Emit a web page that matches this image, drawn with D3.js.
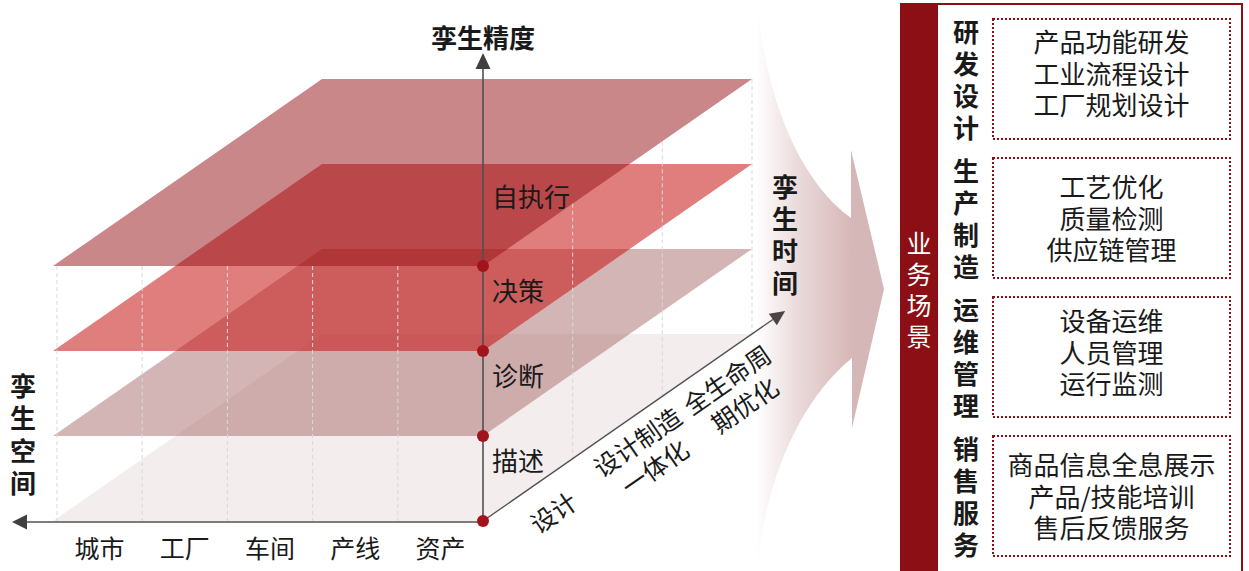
<!DOCTYPE html>
<html><head><meta charset="utf-8">
<script src="https://cdn.jsdelivr.net/npm/d3@7"></script>
<style>
body{margin:0;background:#fff}
svg{display:block}
text{font-family:"Noto Sans CJK SC","Noto Sans",sans-serif;fill:#1a1a1a}
</style>
</head><body>
<svg id="c" width="1249" height="571"></svg>
<script>
// ---- data ----
const layerLabels = ['描述','诊断','决策','自执行'];
const spaceLabels = ['城市','工厂','车间','产线','资产'];
const timeLabels = [['设计'],['设计制造','一体化'],['全生命周','期优化']];
const precisionTitle = '孪生精度';
const spaceTitle = '孪生空间';
const timeTitle = '孪生时间';
const panelTitle = '业务场景';
const sceneCategories = ['研发设计','生产制造','运维管理','销售服务'];
const sceneItems = [
  ['产品功能研发','工业流程设计','工厂规划设计'],
  ['工艺优化','质量检测','供应链管理'],
  ['设备运维','人员管理','运行监测'],
  ['商品信息全息展示','产品/技能培训','售后反馈服务']
];
// ---- styles ----
const layerColors = ['#f3eded','#a96b6b','#c71414','#930f13'];
const layerOpacity = [1,0.5,0.55,0.5];
const itemShift = [-6,0,-5,0];
const darkRed = '#8b0f14';

const svg = d3.select('#c');
const defs = svg.append('defs');

// scales
const x = d3.scaleBand().domain(spaceLabels).range([57,483]);
const y = d3.scaleLinear().domain([0,layerLabels.length-1]).range([521,266]);
const depth = d3.scaleBand().domain(timeLabels.map((d,i)=>i)).range([0,1]);
const DX = 269, DY = -187;
const ox = x.range()[1], oy = y(0);
const dLen = Math.hypot(DX,DY);
const ux = DX/dLen, uy = DY/dLen;
const ang = Math.atan2(DY,DX)*180/Math.PI;

// ---- big gradient arrow ----
const g = defs.append('linearGradient').attr('id','ag')
  .attr('gradientUnits','userSpaceOnUse').attr('x1',756).attr('x2',852).attr('y1',0).attr('y2',0);
g.append('stop').attr('offset',0).attr('stop-color','#ffffff');
g.append('stop').attr('offset',0.45).attr('stop-color','#ead9d9');
g.append('stop').attr('offset',1).attr('stop-color','#d6b7b7');
svg.append('path')
  .attr('d','M755,0 L757,0 C765,95 798,180 851,218 L851,150 L884,289 L852,428 L852,358 C800,400 765,480 757,571 L755,571 Z')
  .attr('fill','url(#ag)');

// ---- planes ----
const planeL = x.range()[0]-4;
svg.append('g').selectAll('path').data(layerLabels).join('path')
  .attr('d',(d,i)=>{
    const yy=y(i);
    return d3.line()([[planeL,yy],[ox,yy],[ox+DX,yy+DY],[planeL+DX,yy+DY]])+'Z';
  })
  .attr('fill',(d,i)=>layerColors[i])
  .attr('fill-opacity',(d,i)=>layerOpacity[i]);

// ---- gridlines ----
const grid = svg.append('g').attr('stroke','#d9d9d9').attr('stroke-width',1).attr('stroke-dasharray','4,3');
grid.selectAll('line.f').data(spaceLabels).join('line').attr('class','f')
  .attr('x1',d=>x(d)).attr('x2',d=>x(d))
  .attr('y1',y(layerLabels.length-1)).attr('y2',y(0));
const backF = timeLabels.map((d,i)=>depth(i)+depth.bandwidth());
grid.selectAll('line.b').data(backF).join('line').attr('class','b')
  .attr('x1',f=>ox+f*DX).attr('x2',f=>ox+f*DX)
  .attr('y1',f=>y(layerLabels.length-1)+f*DY).attr('y2',f=>y(0)+f*DY);

// ---- axes ----
const axisC = '#505050';
const ax = svg.append('g');
ax.append('line').attr('x1',ox).attr('x2',ox).attr('y1',oy).attr('y2',66).attr('stroke',axisC).attr('stroke-width',1.6);
ax.append('path').attr('d',`M${ox},53 L${ox-7.5},69 L${ox+7.5},69 Z`).attr('fill','#404040');
ax.append('line').attr('x1',ox).attr('x2',24).attr('y1',oy+1).attr('y2',oy+1).attr('stroke',axisC).attr('stroke-width',1.6);
ax.append('path').attr('d',`M12,${oy+1} L27,${oy-6.5} L27,${oy+8.5} Z`).attr('fill','#404040');
const tipA = 368;
const tip = [ox+ux*tipA, oy+uy*tipA];
const base = [ox+ux*(tipA-15), oy+uy*(tipA-15)];
ax.append('line').attr('x1',ox).attr('y1',oy).attr('x2',base[0]).attr('y2',base[1]).attr('stroke',axisC).attr('stroke-width',1.3);
ax.append('path').attr('d',`M${tip[0]},${tip[1]} L${base[0]-uy*7},${base[1]+ux*7} L${base[0]+uy*7},${base[1]-ux*7} Z`).attr('fill','#4a4444');

// dots
svg.append('g').selectAll('circle').data(layerLabels).join('circle')
  .attr('cx',ox).attr('cy',(d,i)=>y(i)).attr('r',6).attr('fill','#a3131b');

// layer labels
svg.append('g').selectAll('text').data(layerLabels).join('text')
  .attr('x',ox+9).attr('y',(d,i)=>y(i)-(i===layerLabels.length-1?71:62))
  .attr('dominant-baseline','central').attr('font-size',26).text(d=>d);

// space labels
svg.append('g').selectAll('text').data(spaceLabels).join('text')
  .attr('x',d=>x(d)+x.bandwidth()/2).attr('y',546.5)
  .attr('text-anchor','middle').attr('dominant-baseline','central').attr('font-size',25).text(d=>d);

// multi-line text as one element
function multiText(lines,cx,cy,step,opts){
  const t=svg.append('text').attr('text-anchor','middle')
    .attr('font-size',opts.size).attr('font-weight',opts.weight||'normal');
  if(opts.fill) t.style('fill',opts.fill);
  t.selectAll('tspan').data(lines).join('tspan')
    .attr('x',cx).attr('y',(d,i)=>cy+(i-(lines.length-1)/2)*step)
    .attr('dominant-baseline','central').text(d=>d);
  return t;
}

// time labels
const segLen = dLen*depth.bandwidth();
timeLabels.forEach((lines,i)=>{
  const a=(i+0.5)*segLen+8;
  const t=svg.append('text').attr('text-anchor','middle').attr('font-size',25)
    .attr('transform',`translate(${ox+ux*a},${oy+uy*a}) rotate(${ang})`);
  t.selectAll('tspan').data(lines).join('tspan')
    .attr('x',0).attr('y',(d,j)=>lines.length===1?32:(j===0?22:53))
    .attr('dominant-baseline','central').text(d=>d);
});

// titles
svg.append('text').attr('x',ox).attr('y',36).attr('text-anchor','middle').attr('dominant-baseline','central')
  .attr('font-size',26).attr('font-weight','bold').text(precisionTitle);
multiText(Array.from(spaceTitle),23,433,32.3,{size:26,weight:'bold'});
multiText(Array.from(timeTitle),785,233.5,31.7,{size:26,weight:'bold'});

// ---- right panel ----
const pX=900, pW=343, pY=4;
svg.append('rect').attr('x',pX).attr('y',pY).attr('width',38).attr('height',571-pY).attr('fill',darkRed);
svg.append('path').attr('d',`M${pX},${pY} L${pX+pW-1},${pY} L${pX+pW-1},571`).attr('fill','none').attr('stroke',darkRed).attr('stroke-width',2);
multiText(Array.from(panelTitle),919,288.5,31,{size:25,fill:'#ffffff'});

const by = d3.scaleBand().domain(sceneCategories).range([19,556]).paddingInner(19/139).paddingOuter(0);
const boxX=993, boxW=237;
svg.append('g').selectAll('rect').data(sceneCategories).join('rect')
  .attr('x',boxX).attr('y',d=>by(d)).attr('width',boxW).attr('height',by.bandwidth())
  .attr('fill','none').attr('stroke',darkRed).attr('stroke-width',2).attr('stroke-dasharray','2,2');
sceneCategories.forEach((c,k)=>{
  const cy=by(c)+by.bandwidth()/2;
  multiText(Array.from(c),966,cy-1,32,{size:26,weight:'bold'});
  multiText(sceneItems[k],boxX+boxW/2,cy+itemShift[k]-1,31.5,{size:26});
});
</script>
</body></html>
